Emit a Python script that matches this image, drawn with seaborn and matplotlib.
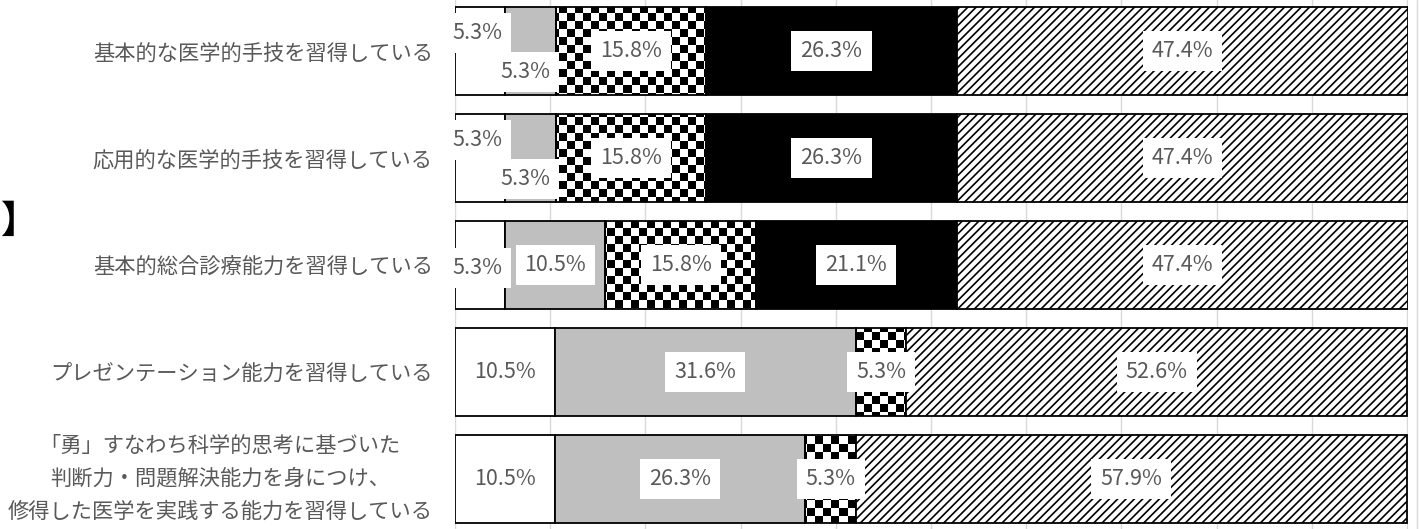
import numpy as np
import matplotlib
matplotlib.use("Agg")
import matplotlib.pyplot as plt
import matplotlib.transforms as mtransforms
import seaborn as sns
from matplotlib.lines import Line2D

# ---------------- data ----------------
categories = [
    "基本的な医学的手技を習得している",
    "応用的な医学的手技を習得している",
    "基本的総合診療能力を習得している",
    "プレゼンテーション能力を習得している",
    "「勇」すなわち科学的思考に基づいた\n判断力・問題解決能力を身につけ、\n修得した医学を実践する能力を習得している",
]
series_white = [5.3, 5.3, 5.3, 10.5, 10.5]
series_gray = [5.3, 5.3, 10.5, 31.6, 26.3]
series_checker = [15.8, 15.8, 15.8, 5.3, 5.3]
series_black = [26.3, 26.3, 21.1, 0.0, 0.0]
series_hatched = [47.4, 47.4, 47.4, 52.6, 57.9]
x_ticks = [0, 10, 20, 30, 40, 50, 60, 70, 80, 90, 100]

# ---------------- style ----------------
sns.set_theme(style="white")
plt.rcParams["font.family"] = ["Noto Sans CJK JP", "DejaVu Sans"]
plt.rcParams["hatch.linewidth"] = 1.2
plt.rcParams["hatch.color"] = "black"

TEXT = "#595959"
GRID = "#d9d9d9"

W, H = 1419, 529
fig = plt.figure(figsize=(W / 100, H / 100), dpi=100)
ax_px = (455, -3.5, 953, 535)  # left, bottom (from bottom), width, height in px
ax = fig.add_axes([ax_px[0] / W, ax_px[1] / H, ax_px[2] / W, ax_px[3] / H])

series_list = [series_white, series_gray, series_checker, series_black, series_hatched]
styles = [
    dict(color="white", hatch=None),
    dict(color="#bfbfbf", hatch=None),
    dict(color="white", hatch=None),   # checkerboard drawn afterwards
    dict(color="black", hatch=None),
    dict(color="white", hatch="////"),
]

left = np.zeros(len(categories))
for vals, st in zip(series_list, styles):
    sns.barplot(
        x=vals, y=categories, orient="y", left=left.copy(), width=0.83,
        color=st["color"], saturation=1, edgecolor="black", linewidth=1.3,
        hatch=st["hatch"], ax=ax,
    )
    left += np.asarray(vals)

total_max = float(left.max())
ax.set_xlim(0, total_max)
ax.set_ylim(len(categories) - 0.5, -0.5)

# grid / axes styling
ax.set_xticks(x_ticks)
ax.grid(axis="x", color=GRID, linewidth=1)
ax.grid(axis="y", visible=False)
ax.set_axisbelow(True)
ax.tick_params(axis="x", labelbottom=False, length=0)
ax.tick_params(axis="y", length=0, pad=16)
for s in ax.spines.values():
    s.set_visible(False)
ax.set_xlabel("")
ax.set_ylabel("")
ax.set_yticks(range(len(categories)))
ax.set_yticklabels(categories, fontsize=15.3, color=TEXT,
                   multialignment="center", linespacing=1.65)
# nudge the three-line label slightly upward, as in the reference
last = ax.get_yticklabels()[-1]
last.set_transform(last.get_transform() +
                   mtransforms.ScaledTranslation(0, 6 / 72, fig.dpi_scale_trans))

# checkerboard fill for the third series
cell = 8
nx = int(round(ax_px[2] / cell))
ny = int(round(ax_px[3] / cell))
yy, xx = np.indices((ny, nx))
board = ((xx + yy) % 2).astype(float)
xlim = ax.get_xlim()
ylim = ax.get_ylim()
for patch, v in zip(ax.containers[2].patches, series_checker):
    patch.set_facecolor("none")
    if v <= 0:
        continue
    im = ax.imshow(board, cmap="gray", vmin=0, vmax=1,
                   extent=(xlim[0], xlim[1], ylim[0], ylim[1]),
                   aspect="auto", interpolation="nearest", zorder=0.9)
    im.set_clip_path(patch)
ax.set_xlim(xlim)
ax.set_ylim(ylim)

# data labels
label_offsets = {
    (0, 0): (-2, 13), (1, 0): (-4, -15),
    (0, 1): (-2, 13), (1, 1): (-4, -15),
    (0, 2): (-2, -2),
}
for i, (cont, vals) in enumerate(zip(ax.containers, series_list)):
    for j, (patch, v) in enumerate(zip(cont.patches, vals)):
        if v <= 0:
            continue
        cx = patch.get_x() + patch.get_width() / 2
        cy = patch.get_y() + patch.get_height() / 2
        dx, dy = label_offsets.get((i, j), (0, 0))
        ax.annotate(f"{v:.1f}%", (cx, cy), xytext=(dx, dy),
                    textcoords="offset points", ha="center", va="center",
                    fontsize=15.5, color=TEXT, zorder=5, annotation_clip=False,
                    bbox=dict(boxstyle="square,pad=0.42", fc="white", ec="none"))

# chart frame line on the right and cropped title bracket
fig.add_artist(Line2D([1417 / W, 1417 / W], [0, 1], transform=fig.transFigure,
                      color=GRID, linewidth=1))
fig.text(1 / W, 1 - 221 / H, "】", fontsize=27, fontweight="bold",
         color="black", ha="left", va="center")

fig.savefig("out.png", dpi=100)
